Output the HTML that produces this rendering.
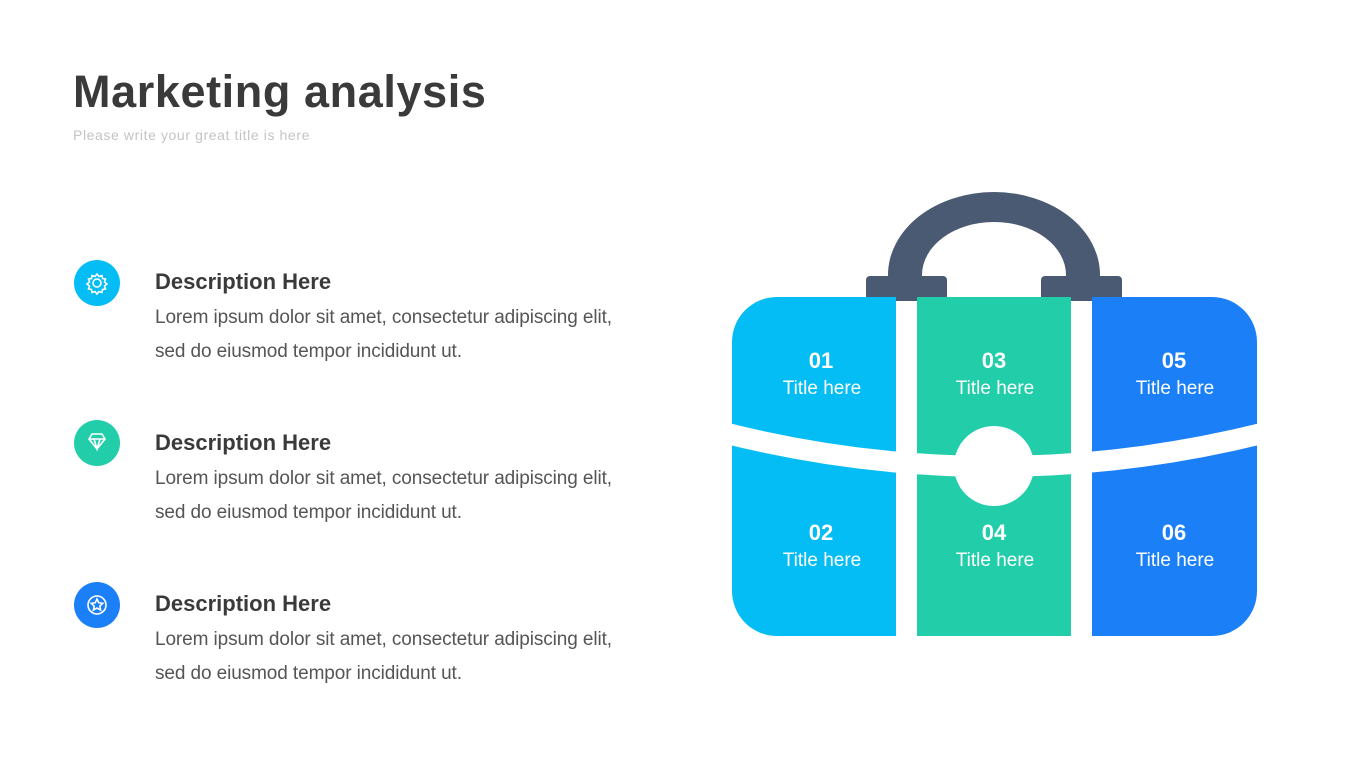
<!DOCTYPE html>
<html><head><meta charset="utf-8"><style>
body{margin:0;width:1365px;height:768px;background:#fff;overflow:hidden;font-family:"Liberation Sans",sans-serif;position:relative}
.a{position:absolute;white-space:nowrap}
h1{position:absolute;left:73px;top:66px;margin:0;font-size:45px;font-weight:bold;color:#3a3a3a;letter-spacing:0.6px}
.sub{left:73px;top:127px;font-size:14px;color:#c4c4c4;letter-spacing:0.6px}
.h{left:155px;font-size:22px;font-weight:bold;color:#3a3a3a}
.b{left:155px;font-size:19px;color:#555;line-height:34px;letter-spacing:-0.1px}
</style></head><body>
<h1>Marketing analysis</h1>
<div class="a sub">Please write your great title is here</div>

<svg class="a" style="left:0;top:0" width="1365" height="768">
<circle cx="97" cy="283" r="23" fill="#05BDF5"/>
<circle cx="97" cy="443" r="23" fill="#22CDA9"/>
<circle cx="97" cy="605" r="23" fill="#1B7FF8"/>
<g fill="none" stroke="#fff" stroke-width="1.6">
<circle cx="97" cy="283" r="4"/>
<path d="M97 274 l2 2.5 3-1 .5 3 3 .5 -1 3 2.5 2 -2.5 2 1 3 -3 .5 -.5 3 -3 -1 -2 2.5 -2 -2.5 -3 1 -.5 -3 -3 -.5 1 -3 -2.5 -2 2.5 -2 -1 -3 3 -.5 .5 -3 3 1z"/>
<path d="M89 439 l3-5 h10 l3 5 -8 10z M89 439 h16 M94 439 l3 10 3-10"/>
<circle cx="97" cy="605" r="9"/>
<path d="M97 599 l1.8 3.8 4 .5 -3 2.8 .8 4 -3.6-2 -3.6 2 .8-4 -3-2.8 4-.5z"/>
</g>
<path d="M888 278 L888 275 A106 83 0 0 1 1100 275 L1100 278 L1066 278 L1066 275 A72 53 0 0 0 922 275 L922 278Z" fill="#4A5A72"/>
<rect x="866" y="276" width="81" height="25" rx="4" fill="#4A5A72"/>
<rect x="1041" y="276" width="81" height="25" rx="4" fill="#4A5A72"/>
<path d="M777 297 H896 V636 H777 A45 45 0 0 1 732 591 V342 A45 45 0 0 1 777 297Z" fill="#05BDF5"/>
<rect x="917" y="297" width="154" height="339" fill="#22CDA9"/>
<path d="M1092 297 H1212 A45 45 0 0 1 1257 342 V591 A45 45 0 0 1 1212 636 H1092Z" fill="#1B7FF8"/>
<path d="M725 433 Q994 500 1264 433" fill="none" stroke="#fff" stroke-width="21"/>
<circle cx="994" cy="466" r="40" fill="#fff"/>
<g fill="#fff" text-anchor="middle" font-family="Liberation Sans,sans-serif">
<g font-size="22" font-weight="bold">
<text x="821" y="368">01</text><text x="994" y="368">03</text><text x="1174" y="368">05</text>
<text x="821" y="540">02</text><text x="994" y="540">04</text><text x="1174" y="540">06</text>
</g>
<g font-size="19">
<text x="822" y="394">Title here</text><text x="995" y="394">Title here</text><text x="1175" y="394">Title here</text>
<text x="822" y="566">Title here</text><text x="995" y="566">Title here</text><text x="1175" y="566">Title here</text>
</g></g>
</svg>

<div class="a h" style="top:269px">Description Here</div>
<div class="a b" style="top:301px">Lorem ipsum dolor sit amet, consectetur adipiscing elit,<br>sed do eiusmod tempor incididunt ut.</div>
<div class="a h" style="top:430px">Description Here</div>
<div class="a b" style="top:462px">Lorem ipsum dolor sit amet, consectetur adipiscing elit,<br>sed do eiusmod tempor incididunt ut.</div>
<div class="a h" style="top:591px">Description Here</div>
<div class="a b" style="top:623px">Lorem ipsum dolor sit amet, consectetur adipiscing elit,<br>sed do eiusmod tempor incididunt ut.</div>
</body></html>
